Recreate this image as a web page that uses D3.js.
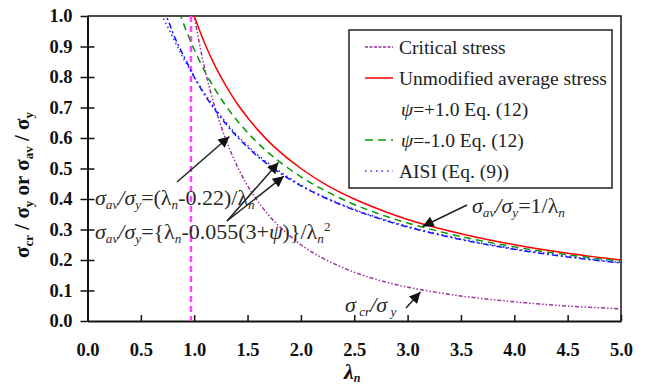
<!DOCTYPE html>
<html>
<head>
<meta charset="utf-8">
<script src="https://d3js.org/d3.v7.min.js"></script>
<style>
  body { margin: 0; background: #fff; }
  svg text { font-family: "Times New Roman", "Liberation Serif", Tinos, "DejaVu Serif", serif !important; }
</style>
</head>
<body>
<div id="chart"></div>
<script>
// slenderness values (x) shared by all curves
var lambda = [0.65, 0.7, 0.75, 0.8, 0.85, 0.9, 0.95, 1.0, 1.1, 1.2, 1.3, 1.4, 1.5, 1.6, 1.75,
              2.0, 2.25, 2.5, 2.75, 3.0, 3.5, 4.0, 4.5, 5.0];

var critical   = [2.367, 2.041, 1.778, 1.563, 1.384, 1.235, 1.108, 1.0, 0.826, 0.694, 0.592, 0.510, 0.444, 0.391, 0.327,
                  0.25, 0.198, 0.16, 0.132, 0.111, 0.082, 0.063, 0.049, 0.04];
var unmodified = [1.538, 1.429, 1.333, 1.25, 1.176, 1.111, 1.053, 1.0, 0.909, 0.833, 0.769, 0.714, 0.667, 0.625, 0.571,
                  0.5, 0.444, 0.4, 0.364, 0.333, 0.286, 0.25, 0.222, 0.2];
var psiPlus    = [1.06, 1.02, 0.99, 0.945, 0.905, 0.87, 0.835, 0.80, 0.74, 0.69, 0.645, 0.605, 0.57, 0.538, 0.498,
                  0.443, 0.40, 0.364, 0.334, 0.308, 0.267, 0.235, 0.21, 0.19];
var psiMinus   = [1.278, 1.204, 1.138, 1.078, 1.024, 0.975, 0.931, 0.89, 0.818, 0.757, 0.704, 0.658, 0.618, 0.582, 0.536,
                  0.4725, 0.423, 0.382, 0.349, 0.321, 0.277, 0.243, 0.217, 0.196];
var aisi       = [1.03, 1.0, 0.965, 0.93, 0.895, 0.86, 0.83, 0.80, 0.745, 0.695, 0.65, 0.61, 0.575, 0.543, 0.503,
                  0.446, 0.402, 0.366, 0.336, 0.31, 0.269, 0.237, 0.212, 0.192];

var limitLambda = 0.97;   // vertical dashed line

var xTicks = [0, 0.5, 1, 1.5, 2, 2.5, 3, 3.5, 4, 4.5, 5];
var yTicks = [0, 0.1, 0.2, 0.3, 0.4, 0.5, 0.6, 0.7, 0.8, 0.9, 1.0];

var legendNames = ["Critical stress", "Unmodified average stress", "\u03c8=+1.0 Eq. (12)", "\u03c8=-1.0 Eq. (12)", "AISI (Eq. (9))"];

var W = 645, H = 387;
var plotL = 87.5, plotR = 621, plotT = 16, plotB = 321;

var svg = d3.select("#chart").append("svg")
  .attr("width", W).attr("height", H);

var x = d3.scaleLinear().domain([0, 5]).range([plotL, plotR]);
var y = d3.scaleLinear().domain([0, 1]).range([plotB, plotT]);

var defs = svg.append("defs");
defs.append("clipPath").attr("id", "plotClip")
  .append("rect").attr("x", plotL).attr("y", plotT)
  .attr("width", plotR - plotL).attr("height", plotB - plotT);

// frame top / right
svg.append("path")
  .attr("d", "M" + plotL + "," + plotT + "H" + plotR + "V" + plotB)
  .attr("fill", "none").attr("stroke", "#111").attr("stroke-width", 1.5);

// axes
svg.append("g")
  .attr("transform", "translate(0," + plotB + ")")
  .call(d3.axisBottom(x).tickValues(xTicks).tickSize(-6).tickSizeOuter(0)
    .tickPadding(22).tickFormat(d3.format(".1f")));

svg.append("g")
  .attr("transform", "translate(" + plotL + ",0)")
  .call(d3.axisLeft(y).tickValues(yTicks).tickSize(7).tickSizeOuter(0)
    .tickPadding(8).tickFormat(d3.format(".1f")));
var yAxisIn = svg.append("g")
  .attr("transform", "translate(" + plotL + ",0)")
  .call(d3.axisLeft(y).tickValues(yTicks.slice(1, -1)).tickSize(-7).tickSizeOuter(0).tickFormat(""));
yAxisIn.select(".domain").remove();

svg.selectAll(".domain").attr("stroke", "#111").attr("stroke-width", 2);
svg.selectAll(".tick line").attr("stroke", "#111").attr("stroke-width", 1.5);
svg.selectAll(".tick text")
  .attr("font-weight", "bold").attr("font-size", 18.5).attr("fill", "#111");

// axis titles
svg.append("text")
  .attr("x", (plotL + plotR) / 2 - 2).attr("y", 379)
  .attr("text-anchor", "middle").attr("font-weight", "bold").attr("font-style", "italic")
  .attr("font-size", 22).attr("fill", "#111")
  .call(function (t) {
    t.append("tspan").text("\u03bb");
    t.append("tspan").attr("font-size", 12).attr("dy", 3).text("n");
  });

var yTitle = svg.append("text")
  .attr("transform", "translate(29,185) rotate(-90)")
  .attr("text-anchor", "middle").attr("font-weight", "bold")
  .attr("font-size", 21).attr("fill", "#111");
[["\u03c3", 0], ["cr", 1], [" / \u03c3", 0], ["y", 1], [" or \u03c3", 0], ["av", 1], [" / \u03c3", 0], ["y", 1]]
  .forEach(function (p, i, arr) {
    var dy = p[1] ? 4 : (i > 0 && arr[i - 1][1] ? -4 : 0);
    yTitle.append("tspan").attr("font-size", p[1] ? 13 : 21).attr("dy", dy).text(p[0]);
  });

// curves
var plot = svg.append("g").attr("clip-path", "url(#plotClip)");

plot.append("line")
  .attr("x1", x(limitLambda)).attr("x2", x(limitLambda))
  .attr("y1", y(1)).attr("y2", y(0))
  .attr("stroke", "#ff44ff").attr("stroke-width", 2.5).attr("stroke-dasharray", "6,4");

var line = d3.line()
  .x(function (d) { return x(d[0]); })
  .y(function (d) { return y(d[1]); })
  .curve(d3.curveCatmullRom);

var series = [
  { v: critical,   c: "#9b30a0", dash: "4,2,1.5,2,1.5,2", w: 1.5 },
  { v: unmodified, c: "#ff0000", dash: null,        w: 1.5 },
  { v: psiPlus,    c: "#1010ff", dash: "6,3,2,3",   w: 1.5 },
  { v: psiMinus,   c: "#009900", dash: "7,5",       w: 1.5 },
  { v: aisi,       c: "#3030ff", dash: "1.5,3",     w: 1.6 }
];

series.forEach(function (s) {
  plot.append("path")
    .datum(lambda.map(function (l, i) { return [l, s.v[i]]; }))
    .attr("d", line)
    .attr("fill", "none").attr("stroke", s.c)
    .attr("stroke-width", s.w)
    .attr("stroke-dasharray", s.dash);
});

// legend
var lg = svg.append("g");
lg.append("rect").attr("x", 349).attr("y", 30).attr("width", 263).attr("height", 158)
  .attr("fill", "#fff").attr("stroke", "#222").attr("stroke-width", 1.5);
var legendStyles = [
  { c: "#9b30a0", dash: "3,1.5" },
  { c: "#ff0000", dash: null },
  null,
  { c: "#009900", dash: "8,5" },
  { c: "#3030ff", dash: "1.5,4" }
];
legendNames.forEach(function (name, i) {
  var by = 54 + i * 31;
  if (legendStyles[i]) {
    lg.append("line").attr("x1", 365).attr("x2", 393).attr("y1", by - 7).attr("y2", by - 7)
      .attr("stroke", legendStyles[i].c).attr("stroke-width", 1.5)
      .attr("stroke-dasharray", legendStyles[i].dash);
  }
  var t = lg.append("text").attr("x", i === 2 || i === 3 ? 401 : 399).attr("y", by)
    .attr("font-size", 19.5).attr("fill", "#222");
  if (name.charAt(0) === "\u03c8") {
    t.append("tspan").attr("font-style", "italic").text(name.charAt(0));
    t.append("tspan").text(name.slice(1));
  } else {
    t.text(name);
  }
});

// annotations
function rich(px, py, parts, size) {
  var t = svg.append("text").attr("x", px).attr("y", py)
    .attr("font-size", size).attr("fill", "#2a2a2a");
  var shift = 0;
  parts.forEach(function (p) {
    var target = p[1] === "sub" ? 4 : (p[1] === "sup" ? -8 : 0);
    t.append("tspan").attr("dy", target - shift)
      .attr("font-size", p[1] ? size * 0.6 : size)
      .attr("font-style", p[2] ? "italic" : null)
      .text(p[0]);
    shift = target;
  });
  return t;
}

rich(95, 205, [["\u03c3", 0, 1], ["av", "sub", 1], ["/\u03c3", 0, 1], ["y", "sub", 1], ["=(\u03bb", 0, 0], ["n", "sub", 1],
  ["-0.22)/\u03bb", 0, 0], ["n", "sub", 1]], 22);
rich(95, 239, [["\u03c3", 0, 1], ["av", "sub", 1], ["/\u03c3", 0, 1], ["y", "sub", 1], ["={\u03bb", 0, 0], ["n", "sub", 1],
  ["-0.055(3+", 0, 0], ["\u03c8", 0, 1], [")}/\u03bb", 0, 0], ["n", "sub", 1], ["2", "sup", 0]], 22);
rich(472, 213, [["\u03c3", 0, 1], ["av", "sub", 1], ["/\u03c3", 0, 1], ["y", "sub", 1], ["=1/\u03bb", 0, 0], ["n", "sub", 1]], 22);
rich(345, 312, [["\u03c3", 0, 1], [" cr", "sub", 1], ["/\u03c3", 0, 1], [" y", "sub", 1]], 22);

defs.append("marker")
  .attr("id", "head").attr("viewBox", "0 0 10 10").attr("refX", 10).attr("refY", 5)
  .attr("markerUnits", "userSpaceOnUse").attr("markerWidth", 13).attr("markerHeight", 11)
  .attr("orient", "auto")
  .append("path").attr("d", "M0,0L10,5L0,10z").attr("fill", "#111");

var arrows = [
  [[177, 182], [x(1.33), y(0.605)]],
  [[227, 221], [x(1.79), y(0.52)]],
  [[227, 221], [x(1.84), y(0.475)]],
  [[467, 205], [x(3.14), y(0.31)]],
  [[406, 308], [x(3.12), y(0.095)]]
];
arrows.forEach(function (a) {
  svg.append("line")
    .attr("x1", a[0][0]).attr("y1", a[0][1]).attr("x2", a[1][0]).attr("y2", a[1][1])
    .attr("stroke", "#222").attr("stroke-width", 1.5).attr("marker-end", "url(#head)");
});
</script>
</body>
</html>
